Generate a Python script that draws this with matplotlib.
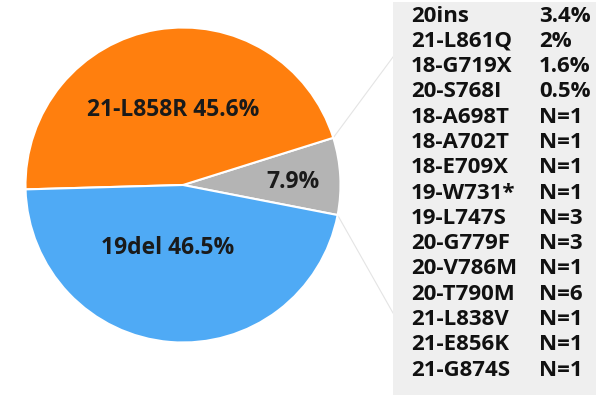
import numpy as np
import matplotlib.pyplot as plt
from matplotlib.patches import Rectangle

# Pie data (order drawn counter-clockwise starting from startangle)
sliceNames = ['other', '21-L858R', '19del']
sliceValues = [7.9, 45.6, 46.5]
sliceLabels = ['7.9%', '21-L858R 45.6%', '19del 46.5%']
sliceColors = ['#b4b4b4', '#ff7f0e', '#4faaf5']

# Breakdown of the "other" slice
otherNames = ['20ins', '21-L861Q', '18-G719X', '20-S768I', '18-A698T',
              '18-A702T', '18-E709X', '19-W731*', '19-L747S', '20-G779F',
              '20-V786M', '20-T790M', '21-L838V', '21-E856K', '21-G874S']
otherValues = ['3.4%', '2%', '1.6%', '0.5%', 'N=1',
               'N=1', 'N=1', 'N=1', 'N=3', 'N=3',
               'N=1', 'N=6', 'N=1', 'N=1', 'N=1']

plt.rcParams['font.family'] = ['Open Sans', 'DejaVu Sans']

W, H = 600, 395
fig = plt.figure(figsize=(W / 100, H / 100), dpi=100)
ax = fig.add_axes([0, 0, 1, 1])

# pie geometry in pixel units (y up)
cx, cy, rad = 183, H - 185, 157.5
wedges, _ = ax.pie(sliceValues, colors=sliceColors, startangle=-11,
                   center=(cx, cy), radius=rad, counterclock=True,
                   wedgeprops=dict(edgecolor='white', linewidth=1.5))

# label placement: (fraction of radius, angle nudge in degrees)
labelPos = [(0.70, -1.8), (0.48, -1.7), (0.41, -8.7)]
for w, lab, (frac, nudge) in zip(wedges, sliceLabels, labelPos):
    ang = np.deg2rad((w.theta1 + w.theta2) / 2 + nudge)
    ax.text(cx + frac * rad * np.cos(ang), cy + frac * rad * np.sin(ang), lab,
            ha='center', va='center', fontsize=16.5, fontweight='bold',
            color='#1a1a1a')

# breakdown box
boxX0, boxX1 = 393, 596
ax.add_patch(Rectangle((boxX0, 0), boxX1 - boxX0, H - 2,
                       facecolor='#efefef', edgecolor='none', zorder=1))

# faint connector lines from the gray wedge to the box
g = wedges[0]
for th, by in [(g.theta2, H - 57), (g.theta1, H - 313)]:
    t = np.deg2rad(th)
    ax.plot([cx + rad * np.cos(t), boxX0], [cy + rad * np.sin(t), by],
            color='#e4e4e4', lw=0.8, zorder=0)

rowTop, rowStep = H - 16, 25.3
for i, (n, v) in enumerate(zip(otherNames, otherValues)):
    y = rowTop - i * rowStep
    ax.text(411, y, n, ha='left', va='center', fontsize=16,
            fontweight='bold', color='#111111', zorder=2)
    ax.text(539, y, v, ha='left', va='center', fontsize=16,
            fontweight='bold', color='#111111', zorder=2)

ax.set_xlim(0, W)
ax.set_ylim(0, H)
ax.set_aspect('auto')
ax.axis('off')

fig.savefig('out.png', dpi=100)
